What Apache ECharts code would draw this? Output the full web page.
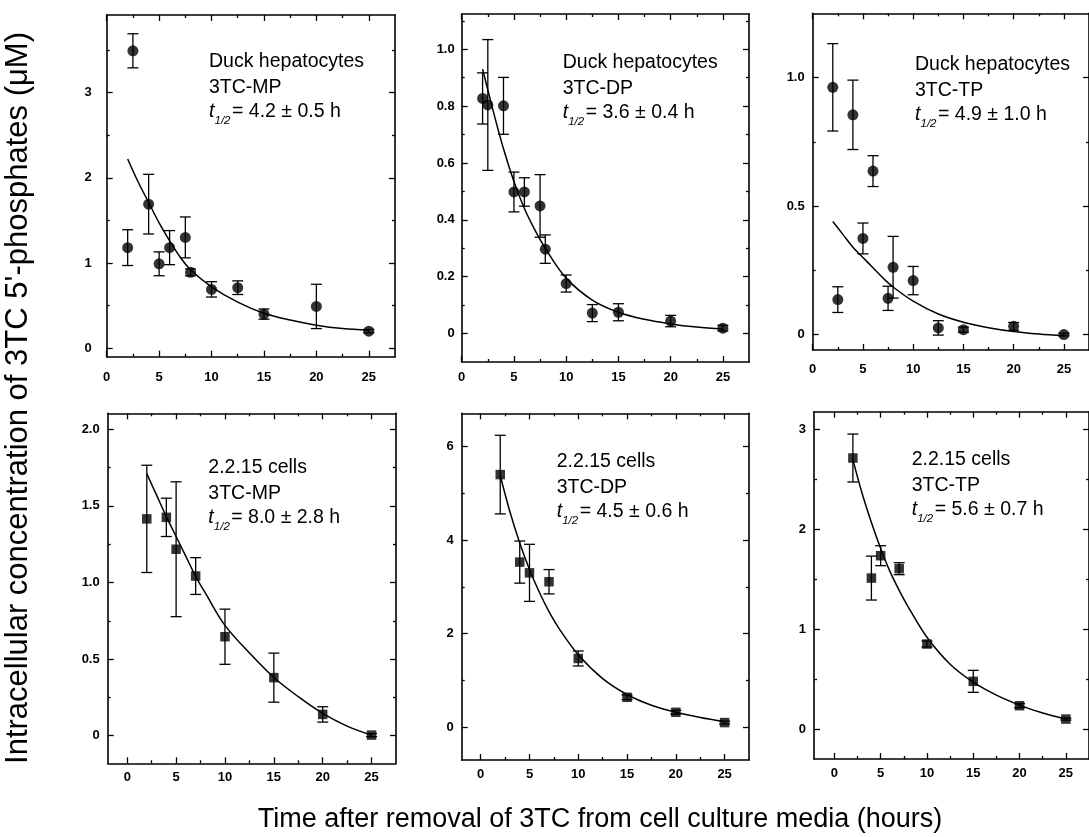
<!DOCTYPE html>
<html><head><meta charset="utf-8">
<script src="https://cdn.jsdelivr.net/npm/echarts@6/dist/echarts.min.js"></script>
<style>html,body{margin:0;padding:0;background:#fff}#c{width:1089px;height:837px}</style>
</head><body><div id="c"></div>
<script>
// ---------------- data ----------------
const xDuck  = [2, 2.5, 4, 5, 6, 7.5, 8, 10, 12.5, 15, 20, 25];
const xCells = [2, 4, 5, 7, 10, 15, 20, 25];
const xFit   = [2, 3, 4, 5, 6, 7, 8, 10, 12.5, 15, 17.5, 20, 22.5, 25];

const duckMP     = [1.18, 3.49, 1.69, 0.99, 1.18, 1.30, 0.89, 0.69, 0.71, 0.40, 0.49, 0.20];
const duckMPErr  = [0.21, 0.20, 0.35, 0.14, 0.20, 0.24, 0.04, 0.09, 0.08, 0.06, 0.26, 0.02];
const duckMPFit  = [2.22, 1.95, 1.71, 1.47, 1.26, 1.07, 0.92, 0.72, 0.54, 0.41, 0.33, 0.27, 0.23, 0.21];

const duckDP     = [0.827, 0.804, 0.801, 0.498, 0.498, 0.449, 0.297, 0.176, 0.072, 0.075, 0.044, 0.019];
const duckDPErr  = [0.09, 0.23, 0.10, 0.07, 0.05, 0.11, 0.05, 0.03, 0.03, 0.03, 0.02, 0.01];
const duckDPFit  = [0.93, 0.785, 0.65, 0.535, 0.44, 0.365, 0.30, 0.195, 0.118, 0.075, 0.05, 0.034, 0.023, 0.016];

const duckTP     = [0.962, 0.136, 0.855, 0.374, 0.636, 0.141, 0.262, 0.210, 0.026, 0.019, 0.032, 0.0];
const duckTPErr  = [0.17, 0.05, 0.135, 0.06, 0.06, 0.047, 0.12, 0.055, 0.028, 0.01, 0.015, 0.005];
const duckTPFit  = [0.44, 0.39, 0.34, 0.30, 0.26, 0.22, 0.185, 0.13, 0.08, 0.048, 0.027, 0.012, 0.002, -0.005];

const cellsMP    = [1.415, 1.425, 1.217, 1.042, 0.646, 0.379, 0.139, 0.004];
const cellsMPErr = [0.35, 0.125, 0.44, 0.12, 0.18, 0.16, 0.05, 0.01];
const cellsMPFit = [1.71, 1.57, 1.43, 1.30, 1.17, 1.04, 0.93, 0.72, 0.54, 0.38, 0.255, 0.146, 0.063, 0.004];

const cellsDP    = [5.40, 3.53, 3.30, 3.11, 1.47, 0.64, 0.32, 0.10];
const cellsDPErr = [0.84, 0.45, 0.61, 0.26, 0.16, 0.05, 0.04, 0.03];
const cellsDPFit = [5.38, 4.60, 3.94, 3.37, 2.89, 2.47, 2.12, 1.55, 1.04, 0.70, 0.47, 0.32, 0.21, 0.12];

const cellsTP    = [2.716, 1.513, 1.737, 1.607, 0.852, 0.478, 0.234, 0.10];
const cellsTPErr = [0.24, 0.22, 0.10, 0.06, 0.03, 0.11, 0.02, 0.01];
const cellsTPFit = [2.70, 2.36, 2.07, 1.81, 1.58, 1.39, 1.22, 0.92, 0.65, 0.47, 0.34, 0.24, 0.16, 0.10];

// ticks
const xMajor = [0, 5, 10, 15, 20, 25];
const xMinor = [2.5, 7.5, 12.5, 17.5, 22.5];
const yMajorDuckMP = [0, 1, 2, 3];            const yMinorDuckMP = [0.5, 1.5, 2.5, 3.5];
const yMajorDuckDP = [0, 0.2, 0.4, 0.6, 0.8, 1.0]; const yMinorDuckDP = [0.1, 0.3, 0.5, 0.7, 0.9, 1.1];
const yMajorDuckTP = [0, 0.5, 1.0];          const yMinorDuckTP = [0.25, 0.75];
const yMajorCellsMP = [0, 0.5, 1.0, 1.5, 2.0]; const yMinorCellsMP = [0.25, 0.75, 1.25, 1.75];
const yMajorCellsDP = [0, 2, 4, 6];           const yMinorCellsDP = [1, 3, 5];
const yMajorCellsTP = [0, 1, 2, 3];           const yMinorCellsTP = [0.5, 1.5, 2.5];

// texts
const textDuckMP  = ['Duck hepatocytes', '3TC-MP', '4.2 ± 0.5 h'];
const textDuckDP  = ['Duck hepatocytes', '3TC-DP', '3.6 ± 0.4 h'];
const textDuckTP  = ['Duck hepatocytes', '3TC-TP', '4.9 ± 1.0 h'];
const textCellsMP = ['2.2.15 cells', '3TC-MP', '8.0 ± 2.8 h'];
const textCellsDP = ['2.2.15 cells', '3TC-DP', '4.5 ± 0.6 h'];
const textCellsTP = ['2.2.15 cells', '3TC-TP', '5.6 ± 0.7 h'];
const yTitle = "Intracellular concentration of 3TC 5'-phosphates (μM)";
const xTitle = 'Time after removal of 3TC from cell culture media (hours)';

// ---------------- assembly ----------------
const panels = [
  {x: xDuck,  y: duckMP,  e: duckMPErr,  f: duckMPFit,  sym: 'circle', yMa: yMajorDuckMP,  yMi: yMinorDuckMP,  txt: textDuckMP,  dec: 0},
  {x: xDuck,  y: duckDP,  e: duckDPErr,  f: duckDPFit,  sym: 'circle', yMa: yMajorDuckDP,  yMi: yMinorDuckDP,  txt: textDuckDP,  dec: 1},
  {x: xDuck,  y: duckTP,  e: duckTPErr,  f: duckTPFit,  sym: 'circle', yMa: yMajorDuckTP,  yMi: yMinorDuckTP,  txt: textDuckTP,  dec: 1},
  {x: xCells, y: cellsMP, e: cellsMPErr, f: cellsMPFit, sym: 'rect',   yMa: yMajorCellsMP, yMi: yMinorCellsMP, txt: textCellsMP, dec: 1},
  {x: xCells, y: cellsDP, e: cellsDPErr, f: cellsDPFit, sym: 'rect',   yMa: yMajorCellsDP, yMi: yMinorCellsDP, txt: textCellsDP, dec: 0},
  {x: xCells, y: cellsTP, e: cellsTPErr, f: cellsTPFit, sym: 'rect',   yMa: yMajorCellsTP, yMi: yMinorCellsTP, txt: textCellsTP, dec: 0}
];
const layout = [
  {l: 106.7, t: 15,    r: 395,  b: 356.7, xmin: 0,    xmax: 27.5, ymin: -0.1,  ymax: 3.91, xm: 14, ym: 15, tx: 209,   ty: 61.7},
  {l: 461.7, t: 14,    r: 749,  b: 362,   xmin: 0,    xmax: 27.5, ymin: -0.1,  ymax: 1.124, xm: 9, ym: 7,  tx: 562.7, ty: 62.7},
  {l: 812.7, t: 13.3,  r: 1099, b: 350,   xmin: 0,    xmax: 27.5, ymin: -0.06, ymax: 1.25, xm: 13, ym: 8,  tx: 915,   ty: 65},
  {l: 107.7, t: 413.3, r: 396,  b: 763.3, xmin: -2,   xmax: 27.5, ymin: -0.18, ymax: 2.104, xm: 8, ym: 8,  tx: 208.3, ty: 467.3},
  {l: 461.7, t: 413.3, r: 749,  b: 760,   xmin: -1.95, xmax: 27.5, ymin: -0.7, ymax: 6.71, xm: 8,  ym: 8,  tx: 556.7, ty: 461.7},
  {l: 814,   t: 411.7, r: 1099.8, b: 759, xmin: -2.2, xmax: 27.5, ymin: -0.3,  ymax: 3.18, xm: 8,  ym: 8,  tx: 911.7, ty: 460}
];

const FONT = '"Liberation Sans", Arial, Helvetica, sans-serif';
const grids = [], xAxes = [], yAxes = [], series = [], graphics = [];

function axis(kind, gi, pos, min, max, ticks, len, labels, margin, fmt) {
  return {
    type: 'value', gridIndex: gi, position: pos, min: min, max: max,
    splitLine: {show: false},
    axisLine: {show: len > 4, onZero: false, lineStyle: {color: '#000', width: 1.6}},
    axisTick: {show: true, inside: true, length: len, customValues: ticks, lineStyle: {color: '#000', width: 1.3}},
    axisLabel: labels ? {show: true, customValues: ticks, margin: margin, color: '#000', fontSize: 13, fontWeight: 'bold', fontFamily: FONT, formatter: fmt} : {show: false},
    axisPointer: {show: false}
  };
}

panels.forEach((p, i) => {
  const L = layout[i];
  grids.push({left: L.l, top: L.t, width: L.r - L.l, height: L.b - L.t, show: false});
  const xi = xAxes.length, yi = yAxes.length;
  xAxes.push(axis('x', i, 'bottom', L.xmin, L.xmax, xMajor, 6, true, L.xm, v => String(v)));
  xAxes.push(axis('x', i, 'bottom', L.xmin, L.xmax, xMinor, 3, false));
  xAxes.push(axis('x', i, 'top', L.xmin, L.xmax, xMajor, 6, false));
  xAxes.push(axis('x', i, 'top', L.xmin, L.xmax, xMinor, 3, false));
  const fmt = v => (Math.abs(v) < 1e-9 ? '0' : v.toFixed(p.dec));
  yAxes.push(axis('y', i, 'left', L.ymin, L.ymax, p.yMa, 6, true, L.ym, fmt));
  yAxes.push(axis('y', i, 'left', L.ymin, L.ymax, p.yMi, 3, false));
  yAxes.push(axis('y', i, 'right', L.ymin, L.ymax, p.yMa, 6, false));
  yAxes.push(axis('y', i, 'right', L.ymin, L.ymax, p.yMi, 3, false));

  // fitted curve
  series.push({
    type: 'line', xAxisIndex: xi, yAxisIndex: yi, data: xFit.map((x, k) => [x, p.f[k]]),
    smooth: 0.35, showSymbol: false, symbol: 'none', silent: true, z: 2,
    lineStyle: {color: '#000', width: 1.5}
  });
  // error bars
  series.push({
    type: 'custom', xAxisIndex: xi, yAxisIndex: yi, silent: true, z: 3,
    data: p.x.map((x, k) => [x, p.y[k] - p.e[k], p.y[k] + p.e[k]]),
    renderItem: (params, api) => {
      const lo = api.coord([api.value(0), api.value(1)]);
      const hi = api.coord([api.value(0), api.value(2)]);
      const w = 5.5, st = {stroke: '#000', lineWidth: 1.3};
      return {type: 'group', children: [
        {type: 'line', shape: {x1: lo[0], y1: lo[1], x2: hi[0], y2: hi[1]}, style: st},
        {type: 'line', shape: {x1: lo[0] - w, y1: lo[1], x2: lo[0] + w, y2: lo[1]}, style: st},
        {type: 'line', shape: {x1: hi[0] - w, y1: hi[1], x2: hi[0] + w, y2: hi[1]}, style: st}
      ]};
    }
  });
  // points
  series.push({
    type: 'scatter', xAxisIndex: xi, yAxisIndex: yi, silent: true, z: 4,
    data: p.x.map((x, k) => [x, p.y[k]]),
    symbol: p.sym, symbolSize: p.sym === 'circle' ? 11 : 9.5,
    itemStyle: {color: '#000'}
  });

  // annotation text
  const fs = 19.5;
  graphics.push({type: 'text', x: L.tx, y: L.ty, style: {text: p.txt[0], font: fs + 'px ' + FONT, fill: '#000', textVerticalAlign: 'middle'}});
  graphics.push({type: 'text', x: L.tx, y: L.ty + 26, style: {text: p.txt[1], font: fs + 'px ' + FONT, fill: '#000', textVerticalAlign: 'middle'}});
  graphics.push({type: 'text', x: L.tx, y: L.ty + 50, style: {text: 't', font: 'italic ' + fs + 'px ' + FONT, fill: '#000', textVerticalAlign: 'middle'}});
  graphics.push({type: 'text', x: L.tx + 5.5, y: L.ty + 59, style: {text: '1/2', font: 'italic 11.5px ' + FONT, fill: '#000', textVerticalAlign: 'middle'}});
  graphics.push({type: 'text', x: L.tx + 23, y: L.ty + 50, style: {text: '= ' + p.txt[2], font: fs + 'px ' + FONT, fill: '#000', textVerticalAlign: 'middle'}});
});

graphics.push({type: 'text', x: 18, y: 398, rotation: Math.PI / 2,
  style: {text: yTitle, font: '31px ' + FONT, fill: '#000', textAlign: 'center', textVerticalAlign: 'middle'}});
graphics.push({type: 'text', x: 600, y: 820,
  style: {text: xTitle, font: '27px ' + FONT, fill: '#000', textAlign: 'center', textVerticalAlign: 'middle'}});

const chart = echarts.init(document.getElementById('c'), null, {renderer: 'canvas'});
chart.setOption({
  backgroundColor: '#fff',
  animation: false,
  grid: grids, xAxis: xAxes, yAxis: yAxes, series: series, graphic: graphics
});
</script>
</body></html>
